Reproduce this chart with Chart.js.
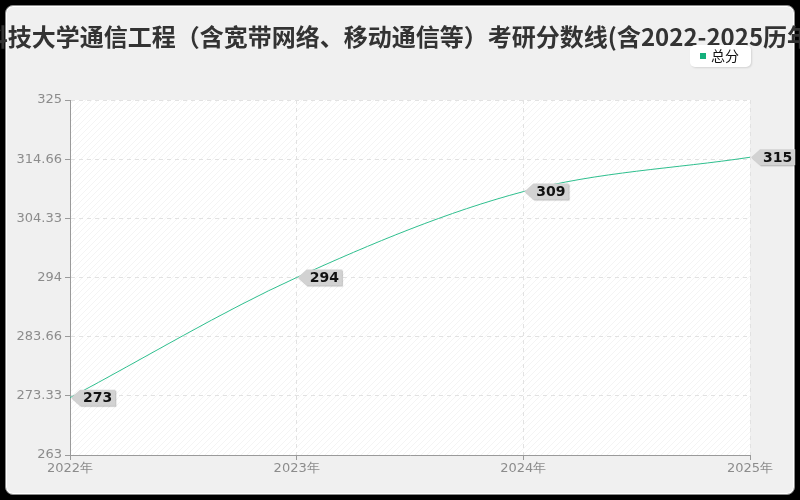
<!DOCTYPE html>
<html>
<head>
<meta charset="utf-8">
<script src="https://cdn.jsdelivr.net/npm/chart.js@4.4.1/dist/chart.umd.min.js"></script>
<style>
  html, body { margin: 0; padding: 0; background: #000; width: 800px; height: 500px; overflow: hidden; }
  #frame {
    position: absolute; left: 5px; top: 5px; width: 790px; height: 490px;
    box-sizing: border-box; background: #f0f0f0;
    border: 1px solid #8a8a8a; border-radius: 8px;
    box-shadow: inset 0 0 0 1px #fff;
  }
  #c { position: absolute; left: 0; top: 0; }
</style>
</head>
<body>
<div id="frame"></div>
<canvas id="c" width="800" height="500"></canvas>
<script>
// données
const TITLE = "科技大学通信工程（含宽带网络、移动通信等）考研分数线(含2022-2025历年)";
const SERIES_LABEL = "总分";
const years = ["2022年", "2023年", "2024年", "2025年"];
const scores = [273, 294, 309, 315];
const yTicks = [263, 273.33, 283.66, 294, 304.33, 314.66, 325];

// couleurs
const LINE = "#2fbf8e";
const LEGEND_SQ = "#14b07c";
const AXIS = "#9a9a9a";
const GRID = "#e2e2e2";
const TICK_TXT = "#8c8c8c";
const FONT = "'DejaVu Sans', sans-serif";
const CJK = "'Noto Sans CJK SC', sans-serif";

// fond hachuré de la zone de tracé
function hatch() {
  const p = document.createElement("canvas");
  p.width = 6; p.height = 6;
  const c = p.getContext("2d");
  c.fillStyle = "#ffffff";
  c.fillRect(0, 0, 6, 6);
  c.strokeStyle = "rgba(0,0,0,0.045)";
  c.lineWidth = 1;
  c.beginPath();
  c.moveTo(0, 6); c.lineTo(6, 0);
  c.moveTo(-3, 3); c.lineTo(3, -3);
  c.moveTo(3, 9); c.lineTo(9, 3);
  c.stroke();
  return p;
}

const decor = {
  id: "decor",
  beforeDraw(chart) {
    const { ctx, chartArea: a } = chart;
    ctx.save();
    ctx.fillStyle = ctx.createPattern(hatch(), "repeat");
    ctx.fillRect(a.left, a.top, a.right - a.left, a.bottom - a.top);
    ctx.restore();
  },
  afterDatasetsDraw(chart) {
    const { ctx } = chart;
    const meta = chart.getDatasetMeta(0);
    ctx.save();
    ctx.font = "bold 14px " + FONT;
    ctx.textBaseline = "middle";
    meta.data.forEach((pt, i) => {
      const txt = String(scores[i]);
      const x = pt.x + 1, y = pt.y;
      const w = ctx.measureText(txt).width + 6;
      const h = 16;
      ctx.save();
      ctx.shadowColor = "rgba(0,0,0,0.25)";
      ctx.shadowOffsetX = 1;
      ctx.shadowOffsetY = 1;
      ctx.shadowBlur = 1;
      ctx.fillStyle = "#d2d2d2";
      ctx.beginPath();
      ctx.moveTo(x, y);
      ctx.lineTo(x + 9, y - h / 2);
      ctx.lineTo(x + 9 + w, y - h / 2);
      ctx.lineTo(x + 9 + w, y + h / 2);
      ctx.lineTo(x + 9, y + h / 2);
      ctx.closePath();
      ctx.fill();
      ctx.restore();
      ctx.fillStyle = "#111";
      ctx.textAlign = "left";
      ctx.fillText(txt, x + 12, y + 1);
    });
    ctx.restore();
  },
  afterDraw(chart) {
    const { ctx } = chart;
    ctx.save();
    // titre
    ctx.font = "bold 24px " + CJK;
    ctx.fillStyle = "#333";
    ctx.textAlign = "center";
    ctx.textBaseline = "middle";
    ctx.fillText(TITLE, 402, 37);
    // légende
    ctx.shadowColor = "rgba(0,0,0,0.12)";
    ctx.shadowOffsetX = 1;
    ctx.shadowOffsetY = 1;
    ctx.shadowBlur = 2;
    ctx.fillStyle = "#fff";
    ctx.beginPath();
    ctx.roundRect(690, 45, 61, 22, 5);
    ctx.fill();
    ctx.shadowColor = "transparent";
    ctx.fillStyle = LEGEND_SQ;
    ctx.fillRect(700, 53, 6, 6);
    ctx.fillStyle = "#111";
    ctx.font = "14px " + CJK;
    ctx.textAlign = "left";
    ctx.fillText(SERIES_LABEL, 711, 56);
    ctx.restore();
  }
};

new Chart(document.getElementById("c"), {
  type: "line",
  data: {
    labels: years,
    datasets: [{
      label: SERIES_LABEL,
      data: scores,
      borderColor: LINE,
      backgroundColor: LINE,
      borderWidth: 1,
      pointRadius: 0,
      cubicInterpolationMode: "monotone",
      fill: false
    }]
  },
  options: {
    responsive: false,
    devicePixelRatio: 1,
    animation: false,
    layout: { padding: { top: 100, right: 50, left: 0, bottom: 0 } },
    plugins: {
      legend: { display: false },
      title: { display: false },
      tooltip: { enabled: false }
    },
    scales: {
      x: {
        offset: false,
        grid: {
          color: GRID,
          tickColor: AXIS,
          tickLength: 5,
          tickBorderDash: []
        },
        // en v4 "dash" s'applique aux lignes de grille
        border: { display: true, color: AXIS, dash: [4, 4] },
        ticks: { color: TICK_TXT, font: { size: 13, family: FONT }, padding: 1, maxRotation: 0 },
        afterFit(s) { s.height = 45; }
      },
      y: {
        min: 263,
        max: 325,
        afterBuildTicks(s) { s.ticks = yTicks.map(v => ({ value: v })); },
        grid: {
          color: GRID,
          tickColor: AXIS,
          tickLength: 5,
          tickBorderDash: []
        },
        border: { display: true, color: AXIS, dash: [4, 4] },
        ticks: {
          color: TICK_TXT,
          font: { size: 13, family: FONT },
          padding: 3,
          callback: v => String(v)
        },
        afterFit(s) { s.width = 70; }
      }
    }
  },
  plugins: [decor]
});
</script>
</body>
</html>
